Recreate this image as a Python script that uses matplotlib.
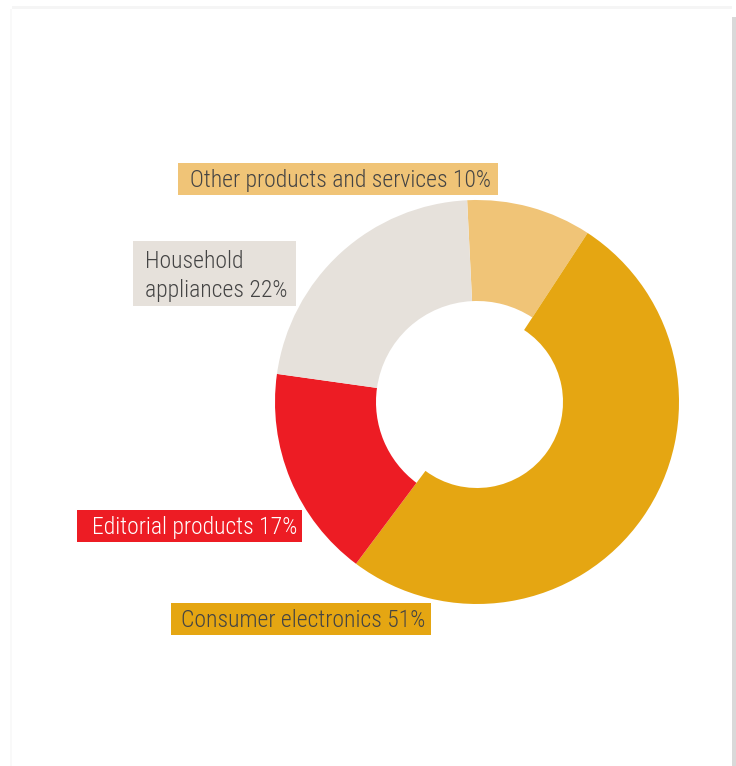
import matplotlib.pyplot as plt
from matplotlib import font_manager
from matplotlib.patches import Rectangle

# данные
labels = ["Other products and services", "Consumer electronics",
          "Editorial products", "Household appliances"]
shares = [10, 51, 17, 22]
colors = ["#F0C477", "#E5A612", "#ED1C24", "#E6E1DB"]
text_colors = ["#444444", "#444444", "#ffffff", "#444444"]

W, H = 736, 766
fig = plt.figure(figsize=(W / 100, H / 100), dpi=100)
fig.patch.set_facecolor("white")

names = {f.name for f in font_manager.fontManager.ttflist}
fam = "Roboto"
for cand in ["Liberation Sans Narrow", "Roboto Condensed"]:
    if cand in names:
        fam = cand
        break


def px(x, y):
    # пиксели картинки (сверху вниз) -> доли фигуры
    return x / W, 1 - y / H


# рамка страницы
fig.patches.append(Rectangle(px(732, 766), 4 / W, 749 / H, transform=fig.transFigure,
                             facecolor="#d9d9d9", edgecolor="none"))
fig.patches.append(Rectangle(px(12, 9), 720 / W, 3 / H, transform=fig.transFigure,
                             facecolor="#f5f5f5", edgecolor="none"))
fig.patches.append(Rectangle(px(10, 766), 2 / W, 757 / H, transform=fig.transFigure,
                             facecolor="#f9f9f9", edgecolor="none"))

# кольцо
cx, cy, r = 477, 402, 202
ax = fig.add_axes([(cx - r) / W, (H - cy - r) / H, 2 * r / W, 2 * r / H])
wedges, _ = ax.pie(shares, colors=colors, startangle=92.8, counterclock=False,
                   radius=1, wedgeprops=dict(width=0.5, linewidth=0))
wedges[1].set_width(1 - 86 / 202)  # у бытовой электроники дырка меньше
ax.set_xlim(-1, 1)
ax.set_ylim(-1, 1)
ax.set_aspect("equal")
ax.axis("off")

# подбор размера шрифта по ширине самой длинной подписи
probe = fig.text(0, 0, "Other products and services 10%", family=fam,
                 fontweight="light", fontsize=10)
fig.canvas.draw()
w10 = probe.get_window_extent().width
probe.remove()
fs = 10 * 300 / w10

# подписи: (левый край рамки, верх, правый, низ, x текста, базовые линии)
boxes = [
    (178, 163, 498, 195, 190, [187]),
    (171, 603, 431, 635, 181, [627]),
    (77, 510, 302, 542, 92, [534]),
    (133, 241, 296, 306, 145, [268, 297]),
]
lines = [
    ["Other products and services %d%%" % shares[0]],
    ["Consumer electronics %d%%" % shares[1]],
    ["Editorial products %d%%" % shares[2]],
    ["Household", "appliances %d%%" % shares[3]],
]

for (x0, y0, x1, y1, tx, bls), txt, c, tc in zip(boxes, lines, colors, text_colors):
    fig.patches.append(Rectangle(px(x0, y1), (x1 - x0) / W, (y1 - y0) / H,
                                 transform=fig.transFigure, facecolor=c, edgecolor="none"))
    for t, bl in zip(txt, bls):
        fig.text(*px(tx, bl), t, family=fam, fontweight="light", fontsize=fs,
                 color=tc, ha="left", va="baseline")

fig.savefig("out.png", dpi=100, facecolor="white")
